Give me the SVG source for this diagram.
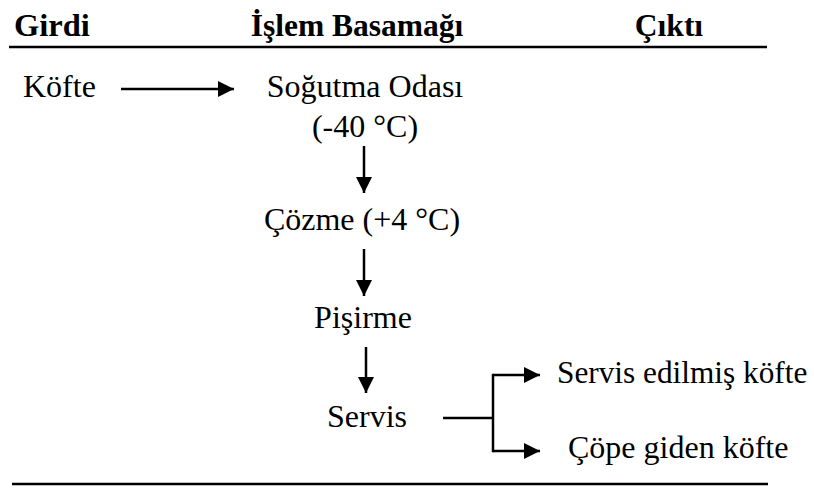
<svg xmlns="http://www.w3.org/2000/svg" width="814" height="489" viewBox="0 0 814 489">
  <defs>
    <marker id="ah" viewBox="0 0 16 16" refX="16" refY="8" markerWidth="16" markerHeight="16" markerUnits="userSpaceOnUse" orient="auto">
      <path d="M0,0 L16,8 L0,16 Z" fill="#000"/>
    </marker>
  </defs>
  <rect width="814" height="489" fill="#fff"/>

  <!-- table header -->
  <g id="header">
    <text x="14" y="36" font-family="Liberation Serif" font-size="32.5" font-weight="bold">Girdi</text>
    <text x="357" y="36" text-anchor="middle" font-family="Liberation Serif" font-size="31.5" font-weight="bold">İşlem Basamağı</text>
    <text x="669" y="36" text-anchor="middle" font-family="Liberation Serif" font-size="31.5" font-weight="bold">Çıktı</text>
    <line x1="9" y1="47" x2="767" y2="47" stroke="#000" stroke-width="2.5"/>
  </g>

  <g id="kofte"><text x="23" y="97" font-family="Liberation Serif" font-size="32">Köfte</text></g>
  <g id="sogutma">
    <text x="365" y="97" text-anchor="middle" font-family="Liberation Serif" font-size="32">Soğutma Odası</text>
    <text x="365" y="137" text-anchor="middle" font-family="Liberation Serif" font-size="32">(-40 °C)</text>
  </g>
  <g id="cozme"><text x="362" y="230" text-anchor="middle" font-family="Liberation Serif" font-size="32">Çözme (+4 °C)</text></g>
  <g id="pisirme"><text x="363" y="328" text-anchor="middle" font-family="Liberation Serif" font-size="32">Pişirme</text></g>
  <g id="servis"><text x="367" y="427" text-anchor="middle" font-family="Liberation Serif" font-size="32">Servis</text></g>
  <g id="servis-edilmis"><text x="557" y="383" font-family="Liberation Serif" font-size="31.3">Servis edilmiş köfte</text></g>
  <g id="cope-giden"><text x="568" y="458" font-family="Liberation Serif" font-size="32">Çöpe giden köfte</text></g>

  <!-- connectors -->
  <g id="connectors" stroke="#000" stroke-width="2.5" fill="none">
    <line x1="121" y1="89" x2="234" y2="89" marker-end="url(#ah)"/>
    <line x1="364" y1="146" x2="364" y2="193" marker-end="url(#ah)"/>
    <line x1="364" y1="249" x2="364" y2="296" marker-end="url(#ah)"/>
    <line x1="366" y1="347" x2="366" y2="393" marker-end="url(#ah)"/>
    <line x1="443" y1="418" x2="493" y2="418"/>
    <path d="M493,375 L540,375" marker-end="url(#ah)"/>
    <line x1="493" y1="373.8" x2="493" y2="452.2"/>
    <path d="M493,451 L540,451" marker-end="url(#ah)"/>
  </g>

  <line x1="12" y1="484" x2="768" y2="484" stroke="#000" stroke-width="2.5"/>
</svg>
